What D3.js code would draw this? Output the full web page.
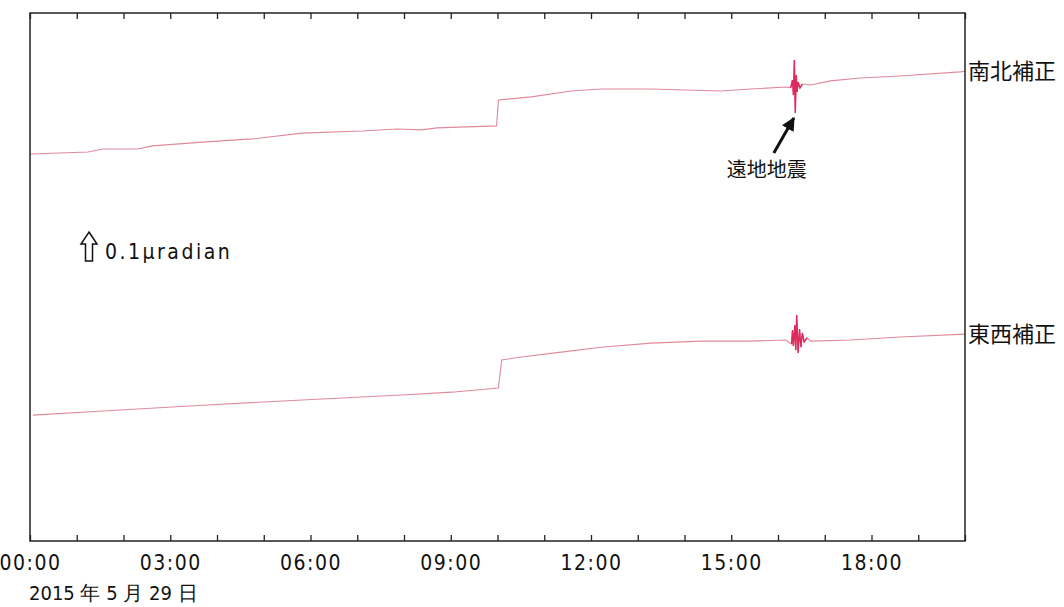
<!DOCTYPE html>
<html>
<head>
<meta charset="utf-8">
<style>
  body { margin: 0; background: #fff; }
  svg { display: block; }
</style>
</head>
<body>
<div id="chart"></div>
<script src="https://d3js.org/d3.v7.min.js"></script>
<script>
  // tilt records (µradian, relative to start of day), hours since 00:00 JST
  const nsHours = [0, 1.24, 1.56, 2.3, 2.62, 3.69, 4.75, 5.82, 7.1, 7.85, 8.38, 8.7, 9.98, 10.02,
    10.72, 11.58, 12.22, 13.28, 14.78, 15.42, 16.16, 16.27, 16.31, 16.33, 16.35, 16.37, 16.39,
    16.41, 16.43, 16.47, 16.52, 16.7, 17.12, 17.76, 18.6, 19.9, 20];
  const nsValues = [0, 0.007, 0.017, 0.017, 0.028, 0.041, 0.052, 0.072, 0.079, 0.086, 0.083, 0.09,
    0.097, 0.186, 0.197, 0.217, 0.224, 0.224, 0.217, 0.224, 0.231, 0.228, 0.255, 0.203, 0.324,
    0.141, 0.272, 0.214, 0.248, 0.228, 0.241, 0.238, 0.252, 0.262, 0.269, 0.283, 0.285];

  const ewHours = [0.06, 1.56, 3.69, 5.82, 7.95, 9.02, 10.02, 10.09, 10.51, 11.36, 12.22, 13.28,
    14.35, 15.42, 16.16, 16.29, 16.31, 16.33, 16.36, 16.38, 16.4, 16.43, 16.46, 16.49, 16.52,
    16.56, 16.62, 16.7, 17.55, 18.61, 20];
  const ewValues = [0, 0.014, 0.034, 0.052, 0.069, 0.079, 0.093, 0.19, 0.2, 0.217, 0.234, 0.248,
    0.255, 0.255, 0.259, 0.245, 0.293, 0.238, 0.31, 0.224, 0.345, 0.214, 0.297, 0.234, 0.283,
    0.252, 0.266, 0.255, 0.259, 0.269, 0.279];

  // baseline of each trace on the shared tilt scale
  const nsOffset = 1.334;
  const ewOffset = 0.434;

  const seriesNames = ['南北補正', '東西補正'];
  const tickHours = d3.range(0, 21);
  const labelHours = [0, 3, 6, 9, 12, 15, 18];
  const dateLabel = '2015 年 5 月 29 日';
  const quakeLabel = '遠地地震';
  const quakeWindow = [16.2, 16.65];

  const width = 1064, height = 607;
  const margin = { top: 13, right: 99, bottom: 66, left: 30 };
  const w = width - margin.left - margin.right;
  const h = height - margin.top - margin.bottom;

  const svg = d3.select('#chart').append('svg')
    .attr('width', width)
    .attr('height', height);
  const g = svg.append('g')
    .attr('transform', 'translate(' + margin.left + ',' + margin.top + ')');

  const x = d3.scaleLinear().domain([0, 20]).range([0, w]);
  const y = d3.scaleLinear().domain([0, 1.82]).range([h, 0]);

  const pad = (n) => (n < 10 ? '0' : '') + n;
  const narrow = '"DejaVu Sans Condensed", "Liberation Sans Narrow", sans-serif';

  const series = [
    { name: seriesNames[0], offset: nsOffset,
      values: nsHours.map((t, i) => ({ t: t, v: nsValues[i] })) },
    { name: seriesNames[1], offset: ewOffset,
      values: ewHours.map((t, i) => ({ t: t, v: ewValues[i] })) },
  ];

  // traces
  series.forEach((s) => {
    const line = d3.line()
      .x((d) => x(d.t))
      .y((d) => y(d.v + s.offset));
    g.append('path')
      .attr('d', line(s.values))
      .attr('fill', 'none')
      .attr('stroke', '#e08a9c')
      .attr('stroke-width', 1.1);
    // the teleseismic wiggle prints darker
    g.append('path')
      .attr('d', line(s.values.filter((d) => d.t >= quakeWindow[0] && d.t <= quakeWindow[1])))
      .attr('fill', 'none')
      .attr('stroke', '#dc2a5e')
      .attr('stroke-width', 1.4);
    const last = s.values[s.values.length - 1];
    g.append('text')
      .attr('x', w + 3)
      .attr('y', y(last.v + s.offset))
      .attr('dy', '0.36em')
      .attr('font-family', '"Noto Sans CJK JP", sans-serif')
      .attr('font-size', 22)
      .attr('fill', '#111')
      .text(s.name);
  });

  // frame and hour ticks
  const xAxisBottom = d3.axisBottom(x)
    .tickValues(tickHours)
    .tickSizeInner(-6)
    .tickSizeOuter(0)
    .tickPadding(14)
    .tickFormat((d) => (labelHours.includes(d) ? pad(d) + ':00' : ''));
  const xAxisTop = d3.axisTop(x)
    .tickValues(tickHours)
    .tickSizeInner(-6)
    .tickSizeOuter(0)
    .tickFormat('');

  const gb = g.append('g')
    .attr('transform', 'translate(0,' + h + ')')
    .call(xAxisBottom);
  const gt = g.append('g').call(xAxisTop);
  [gb, gt].forEach((a) => {
    a.select('.domain').remove();
    a.selectAll('.tick line').attr('stroke', '#222').attr('stroke-width', 1.3);
  });
  gb.selectAll('.tick text')
    .attr('font-family', narrow)
    .attr('font-size', 21)
    .attr('letter-spacing', 1.5)
    .attr('fill', '#111');

  g.append('rect')
    .attr('width', w)
    .attr('height', h)
    .attr('fill', 'none')
    .attr('stroke', '#222')
    .attr('stroke-width', 1.5);

  // date under the axis
  g.append('text')
    .attr('x', -1)
    .attr('y', h + 59)
    .attr('font-family', narrow)
    .attr('font-size', 20)
    .attr('fill', '#111')
    .text(dateLabel);

  // scale bar: hollow arrow = 0.1 µradian
  const ax = 59, aTop = y(1.065), aBot = aTop + (y(0) - y(0.1));
  const aw = 8, sw = 3.5, headH = 12;
  g.append('path')
    .attr('d', 'M' + ax + ',' + aTop +
      'L' + (ax + aw) + ',' + (aTop + headH) +
      'L' + (ax + sw) + ',' + (aTop + headH) +
      'L' + (ax + sw) + ',' + aBot +
      'L' + (ax - sw) + ',' + aBot +
      'L' + (ax - sw) + ',' + (aTop + headH) +
      'L' + (ax - aw) + ',' + (aTop + headH) + 'Z')
    .attr('fill', '#fff')
    .attr('stroke', '#111')
    .attr('stroke-width', 1.5);
  g.append('text')
    .attr('x', ax + 16)
    .attr('y', aBot - 2)
    .attr('font-family', narrow)
    .attr('font-size', 21)
    .attr('letter-spacing', 2.5)
    .attr('fill', '#111')
    .text('0.1μradian');

  // teleseism annotation
  const qt = 16.36;
  const tipX = x(qt) - 1, tipY = y(0.141 + nsOffset) + 5;
  svg.append('defs').append('marker')
    .attr('id', 'head')
    .attr('viewBox', '0 0 10 10')
    .attr('refX', 9).attr('refY', 5)
    .attr('markerWidth', 4.5).attr('markerHeight', 4.5)
    .attr('orient', 'auto')
    .append('path')
    .attr('d', 'M0,0L10,5L0,10Z')
    .attr('fill', '#111');
  g.append('line')
    .attr('x1', tipX - 20).attr('y1', tipY + 35)
    .attr('x2', tipX).attr('y2', tipY)
    .attr('stroke', '#111')
    .attr('stroke-width', 3)
    .attr('marker-end', 'url(#head)');
  g.append('text')
    .attr('x', tipX - 27)
    .attr('y', tipY + 52)
    .attr('text-anchor', 'middle')
    .attr('dy', '0.35em')
    .attr('font-family', '"Noto Sans CJK JP", sans-serif')
    .attr('font-size', 20)
    .attr('fill', '#111')
    .text(quakeLabel);
</script>
</body>
</html>
